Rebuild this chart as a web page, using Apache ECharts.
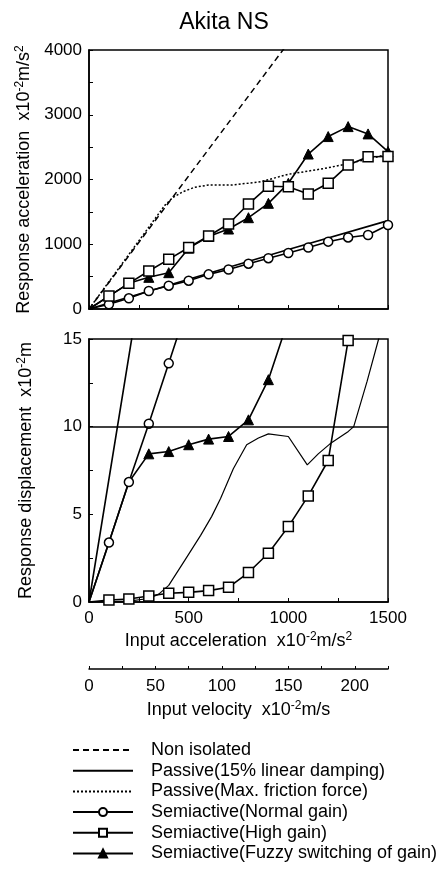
<!DOCTYPE html>
<html>
<head>
<meta charset="utf-8">
<script src="https://cdn.jsdelivr.net/npm/echarts@6/dist/echarts.min.js"></script>
<style>
html,body{margin:0;padding:0;background:#fff;}
#c{width:448px;height:888px;}
</style>
</head>
<body>
<div id="c"></div>
<script>
// ---------- data (x = input acceleration, x10^-2 m/s^2) ----------
const title = 'Akita NS';
const seriesNames = [
  'Non isolated',
  'Passive(15% linear damping)',
  'Passive(Max. friction force)',
  'Semiactive(Normal gain)',
  'Semiactive(High gain)',
  'Semiactive(Fuzzy switching of gain)'
];
const namesWithoutMarker = [seriesNames[0], seriesNames[1], seriesNames[2]];
// Top: response acceleration
const accNonIsolated = [[0,0],[973,4000],[1100,4520]];
const accPassiveLinear = [[0,0],[500,460],[1000,920],[1500,1365]];
const accPassiveFriction = [[0,0],[380,1600],[420,1720],[470,1810],[530,1880],[600,1915],[720,1915],[860,1965],[1000,2080],[1180,2170],[1310,2250],[1500,2390]];
const accNormal = [[0,0],[100,72],[200,165],[300,278],[400,360],[500,437],[600,535],[700,610],[800,700],[900,785],[1000,865],[1100,950],[1200,1040],[1300,1105],[1400,1143],[1500,1297]];
const accHigh = [[0,0],[100,200],[200,396],[300,587],[400,767],[500,950],[600,1127],[700,1312],[800,1621],[900,1895],[1000,1889],[1100,1776],[1200,1941],[1300,2223],[1400,2352],[1500,2355]];
const accFuzzy = [[0,0],[100,200],[200,396],[300,489],[400,561],[500,940],[600,1120],[700,1235],[800,1410],[900,1632],[1000,1941],[1100,2393],[1200,2663],[1300,2817],[1400,2704],[1500,2432]];
const accFuzzyHidden = [100,200]; // points drawn without marker (hidden under other marks)
// Bottom: response displacement
const dispPassiveLinear = [[0,0],[214,15],[250,17.5]];
const dispPassiveFriction = [[0,0],[200,0.05],[300,0.2],[350,0.45],[400,0.95],[482,2.4],[560,3.8],[615,4.87],[660,5.9],[724,7.6],[791,8.97],[850,9.35],[900,9.59],[1000,9.44],[1095,7.82],[1150,8.45],[1209,9.02],[1301,9.73],[1328,10.0],[1395,12.58],[1453,15],[1480,16.2]];
const dispNormal = [[0,0],[100,3.39],[200,6.84],[300,10.17],[400,13.61],[500,17.1]];
const dispHigh = [[0,0],[100,0.11],[200,0.17],[300,0.34],[400,0.5],[500,0.55],[600,0.65],[700,0.84],[800,1.68],[900,2.78],[1000,4.3],[1100,6.05],[1200,8.07],[1300,14.92]];
const dispFuzzy = [[0,0],[100,3.39],[200,6.84],[300,8.45],[400,8.58],[500,8.97],[600,9.29],[700,9.44],[800,10.39],[900,12.68],[1000,16.1]];
const dispFuzzyHidden = [100,200];
const dispLimit = 10;
// axes
const accAxisMax = 4000, accAxisStep = 500, accLabelStep = 1000;
const dispAxisMax = 15, dispAxisStep = 2.5, dispLabelStep = 5;
const inputAccMax = 1500, inputAccStep = 250, inputAccLabelStep = 500;
const inputVelMax = 225, inputVelStep = 25, inputVelLabelStep = 50;

// ---------- chart ----------
const FONT = 'Liberation Sans, Arial, Helvetica, sans-serif';
const BLACK = '#000';
const chart = echarts.init(document.getElementById('c'), null, {renderer:'canvas'});

function rich(size){
  return {
    n:{fontSize:size, fontFamily:FONT, color:BLACK, lineHeight:21},
    s:{fontSize:Math.round(size*0.66), fontFamily:FONT, color:BLACK, lineHeight:12, verticalAlign:'top'}
  };
}
const symStyle = {
  circle:{symbol:'circle', symbolSize:9, itemStyle:{color:'#fff', borderColor:BLACK, borderWidth:1.5}},
  square:{symbol:'rect', symbolSize:10, itemStyle:{color:'#fff', borderColor:BLACK, borderWidth:1.5}},
  tri:{symbol:'triangle', symbolSize:10, itemStyle:{color:BLACK, borderColor:BLACK, borderWidth:1}}
};
function withHidden(arr, hidden){
  return arr.map(p => (hidden.indexOf(p[0])>=0 || p[0]===0) ? {value:p, symbol:'none'} : p);
}
function noOrigin(arr){ return arr.map(p => p[0]===0 ? {value:p, symbol:'none'} : p); }

function mkLine(name, data, xi, yi, lineStyle, sym, z){
  const s = {
    name, type:'line', data, xAxisIndex:xi, yAxisIndex:yi,
    lineStyle:Object.assign({color:BLACK, width:1.6}, lineStyle),
    itemStyle:{color:BLACK},
    symbol:'none', showSymbol:true, animation:false, clip:true, silent:true, z:z||2
  };
  if (sym) Object.assign(s, sym);
  return s;
}
const dashed = {type:[6,4], width:1.5};
const dotted = {type:[2,2], width:1.5};
const thin = {width:1.2};

function tickFmt(step){ return v => (Math.abs(v/step - Math.round(v/step))<1e-6 ? String(v) : ''); }

const option = {
  backgroundColor:'#fff',
  animation:false,
  title:{text:title, left:'center', top:6, textStyle:{fontFamily:FONT, fontSize:23, fontWeight:'normal', color:BLACK}},
  legend:{
    orient:'vertical', left:72, top:741, padding:0, itemWidth:60, itemHeight:10, itemGap:2.7,
    textStyle:{fontFamily:FONT, fontSize:18, color:BLACK, padding:[0,0,0,13]},
    data:seriesNames.map(n => namesWithoutMarker.indexOf(n)>=0 ? {name:n, itemStyle:{opacity:0}} : {name:n}),
    selectedMode:false
  },
  grid:[
    {left:89, width:299, top:50, height:259, show:true, borderColor:BLACK, borderWidth:1.5, backgroundColor:'transparent'},
    {left:89, width:299, top:339, height:263, show:true, borderColor:BLACK, borderWidth:1.5, backgroundColor:'transparent'}
  ],
  xAxis:[
    {type:'value', gridIndex:0, min:0, max:inputAccMax, interval:inputAccStep,
     axisLine:{show:true, lineStyle:{color:BLACK, width:1.5}}, axisTick:{show:true, inside:true, length:4, lineStyle:{color:BLACK}},
     axisLabel:{show:false}, splitLine:{show:false}},
    {type:'value', gridIndex:1, min:0, max:inputAccMax, interval:inputAccStep,
     axisLine:{show:true, onZero:false, lineStyle:{color:BLACK, width:1.5}}, axisTick:{show:true, inside:true, length:4, lineStyle:{color:BLACK}},
     axisLabel:{show:true, margin:8, formatter:tickFmt(inputAccLabelStep), fontFamily:FONT, fontSize:17, color:BLACK},
     splitLine:{show:false},
     name:'{n|Input acceleration  x10}{s|-2}{n|m/s}{s|2}', nameLocation:'middle', nameGap:29,
     nameTextStyle:{rich:rich(18)}},
    {type:'value', gridIndex:1, position:'bottom', offset:67, min:0, max:inputVelMax, interval:inputVelStep,
     axisLine:{show:true, onZero:false, lineStyle:{color:BLACK, width:1.5}}, axisTick:{show:true, inside:true, length:3, lineStyle:{color:BLACK}},
     axisLabel:{show:true, margin:9, formatter:tickFmt(inputVelLabelStep), fontFamily:FONT, fontSize:17, color:BLACK},
     splitLine:{show:false},
     name:'{n|Input velocity  x10}{s|-2}{n|m/s}', nameLocation:'middle', nameGap:31,
     nameTextStyle:{rich:rich(18)}}
  ],
  yAxis:[
    {type:'value', gridIndex:0, min:0, max:accAxisMax, interval:accAxisStep,
     axisLine:{show:true, lineStyle:{color:BLACK, width:1.5}}, axisTick:{show:true, inside:true, length:4, lineStyle:{color:BLACK}},
     axisLabel:{margin:7, formatter:tickFmt(accLabelStep), fontFamily:FONT, fontSize:17, color:BLACK},
     splitLine:{show:false},
     name:'{n|Response acceleration  x10}{s|-2}{n|m/s}{s|2}', nameLocation:'middle', nameGap:52,
     nameTextStyle:{rich:rich(18)}},
    {type:'value', gridIndex:1, min:0, max:dispAxisMax, interval:dispAxisStep,
     axisLine:{show:true, lineStyle:{color:BLACK, width:1.5}}, axisTick:{show:true, inside:true, length:4, lineStyle:{color:BLACK}},
     axisLabel:{margin:7, formatter:tickFmt(dispLabelStep), fontFamily:FONT, fontSize:17, color:BLACK},
     splitLine:{show:false},
     name:'{n|Response displacement  x10}{s|-2}{n|m}', nameLocation:'middle', nameGap:52,
     nameTextStyle:{rich:rich(18)}}
  ],
  series:[
    mkLine(seriesNames[0], accNonIsolated, 0, 0, dashed),
    mkLine(seriesNames[1], accPassiveLinear, 0, 0, {}),
    mkLine(seriesNames[2], accPassiveFriction, 0, 0, dotted),
    mkLine(seriesNames[3], noOrigin(accNormal), 0, 0, {}, symStyle.circle, 4),
    mkLine(seriesNames[5], withHidden(accFuzzy, accFuzzyHidden), 0, 0, {}, symStyle.tri, 3),
    mkLine(seriesNames[4], noOrigin(accHigh), 0, 0, {}, symStyle.square, 4),

    Object.assign(mkLine(seriesNames[1], dispPassiveLinear, 1, 1, {}), {
      markLine:{silent:true, symbol:'none', label:{show:false}, animation:false,
        lineStyle:{color:BLACK, width:1.5, type:'solid'}, data:[{yAxis:dispLimit}]}
    }),
    mkLine(seriesNames[2], dispPassiveFriction, 1, 1, thin),
    mkLine(seriesNames[5], withHidden(dispFuzzy, dispFuzzyHidden), 1, 1, {}, symStyle.tri, 3),
    mkLine(seriesNames[3], noOrigin(dispNormal), 1, 1, {}, symStyle.circle, 4),
    mkLine(seriesNames[4], noOrigin(dispHigh), 1, 1, {}, symStyle.square, 4)
  ]
};
chart.setOption(option);
</script>
</body>
</html>
